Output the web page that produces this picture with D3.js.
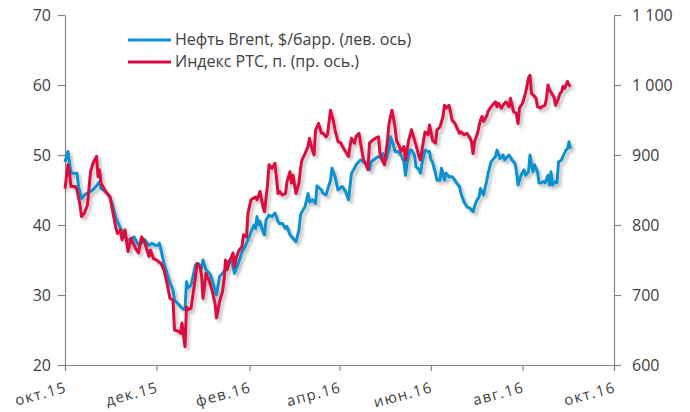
<!DOCTYPE html>
<html><head><meta charset="utf-8">
<script src="https://cdn.jsdelivr.net/npm/d3@7"></script>
<style>
body{margin:0;background:#fff;}
svg{display:block;font-family:"Open Sans",sans-serif;}
</style></head>
<body><svg id="c" width="690" height="412"></svg>
<script>
// day offsets from 2015-10-01 and values
const brentDays = [0,2,3,4,7,8,9,11,13,17,19,21,23,24,27,30,32,34,37,39,41,43,46,49,52,53,56,58,60,62,63,66,68,70,72,73,76,78,80,81,82,84,87,89,91,92,94,97,99,101,103,105,107,109,111,113,116,118,120,122,124,126,127,128,129,130,132,133,134,136,138,140,142,143,145,147,148,150,152,154,156,157,158,160,162,163,165,167,168,171,172,174,177,178,180,182,183,185,187,189,191,193,194,197,199,201,203,204,207,209,211,212,214,216,217,219,220,222,224,226,227,228,230,231,233,234,236,237,238,240,242,243,244,245,247,248,250,251,253,254,256,258,259,261,263,264,266,268,270,272,274,276,277,279,281,282,284,287,288,290,292,293,295,296,298,300,301,302,304,306,307,309,310,311,312,313,315,316,317,319,320,322,323,324,325,327,328,329,331,332,334,335,336,337];
const brentValues = [49.0,50.5,48.9,47.4,47.4,47.4,45.5,43.8,44.3,44.8,45.1,45.6,46.2,45.2,44.8,44.0,42.6,41.0,39.5,38.8,37.9,37.9,38.3,37.1,37.6,37.9,37.1,37.4,37.1,37.1,37.4,34.5,33.1,31.7,30.7,29.3,28.6,28.1,27.9,31.9,31.0,31.4,34.3,34.5,33.8,35.0,33.6,32.9,31.4,30.0,32.6,33.1,33.6,34.8,35.0,33.1,34.8,36.2,36.9,37.9,39.0,40.0,39.5,41.2,40.0,40.5,39.0,38.6,40.7,41.4,41.2,41.7,40.5,40.2,40.2,39.5,39.8,38.6,38.1,37.6,39.3,41.4,41.9,42.6,44.5,43.3,43.6,43.1,45.6,45.0,44.5,44.3,46.4,48.1,46.9,45.0,45.2,45.5,44.8,43.6,47.4,48.1,48.6,49.3,49.0,48.6,47.9,49.0,49.5,49.8,49.5,50.2,49.3,50.7,52.6,51.4,50.5,50.5,50.0,49.0,47.1,48.8,50.7,50.7,50.0,48.3,47.9,47.4,48.8,50.7,50.5,50.5,49.3,49.0,47.4,46.4,46.4,48.1,46.4,47.4,46.9,46.9,46.7,46.0,45.5,44.5,43.3,42.6,42.4,41.9,43.3,44.0,45.2,44.3,46.2,47.3,49.0,49.8,50.7,49.5,50.0,49.3,49.8,50.0,49.3,48.8,47.6,45.7,47.1,47.9,47.1,47.6,50.0,48.6,47.6,48.6,47.6,46.0,46.0,46.2,46.0,47.1,45.7,47.6,45.7,46.2,46.0,49.0,49.3,49.8,50.7,50.9,51.9,50.9];
const rtsDays = [0,2,3,4,7,8,10,11,13,15,17,19,21,22,23,24,27,30,32,34,35,37,38,40,42,44,47,49,51,53,56,57,59,61,64,66,68,70,72,73,76,77,78,80,81,82,84,87,88,90,91,92,94,96,98,100,101,103,105,106,107,108,110,112,113,114,116,118,119,121,122,124,127,128,130,132,133,135,136,138,140,142,143,145,147,148,150,151,152,154,156,157,158,160,162,163,164,166,167,169,171,172,174,175,177,179,180,182,184,185,187,189,190,191,193,194,196,197,199,200,202,203,205,207,209,210,212,213,215,216,218,220,221,223,224,226,227,229,231,234,236,237,238,240,242,243,244,245,247,248,250,252,253,254,256,257,258,260,261,263,264,266,268,270,271,272,273,275,277,278,279,281,282,284,287,288,289,291,292,294,296,297,299,301,302,303,305,306,307,309,310,311,312,314,315,317,318,320,321,322,323,325,326,327,329,330,331,332,333,335,336,337];
const rtsValues = [852,886,874,855,855,850,829,812,817,829,876,890,898,869,879,860,848,840,817,795,788,793,779,793,762,781,767,760,783,776,755,764,752,750,745,736,717,695,693,650,648,645,660,626,683,679,681,726,745,740,729,695,731,721,707,688,667,690,705,721,750,736,750,760,740,752,764,769,786,783,817,836,840,836,848,826,819,857,886,881,888,845,848,843,845,862,876,860,871,845,860,881,893,902,912,924,914,900,935,945,931,931,926,929,964,948,936,919,917,912,905,898,912,924,917,926,931,917,893,890,879,917,921,924,926,902,890,886,921,945,964,940,921,912,905,912,893,920,936,914,898,893,907,933,929,943,933,921,917,936,940,955,971,967,971,962,950,945,940,931,933,929,931,924,919,902,919,931,950,955,948,955,962,969,976,969,974,967,971,976,969,981,962,959,945,967,974,981,988,1010,1014,988,986,981,969,967,969,971,981,1000,993,986,983,971,981,988,990,998,995,1005,1000,998];
const leftTicks = [20,30,40,50,60,70];
const rightTicks = [600,700,800,900,1000,1100];
const monthTicks = ["2015-10-01","2015-12-01","2016-02-01","2016-04-01","2016-06-01","2016-08-01","2016-10-01"];
const monthLabels = ["окт.15","дек.15","фев.16","апр.16","июн.16","авг.16","окт.16"];
const seriesNames = ["Нефть Brent, $/барр. (лев. ось)","Индекс РТС, п. (пр. ось.)"];
const colors = ["#1190cf","#dc0a3c"];

const start = new Date(2015,9,1), end = new Date(2016,9,1);
const parse = d3.timeParse("%Y-%m-%d");
const brent = brentDays.map((d,i)=>({date:d3.timeDay.offset(start,d), v:brentValues[i]}));
const rts = rtsDays.map((d,i)=>({date:d3.timeDay.offset(start,d), v:rtsValues[i]}));

const svg = d3.select("#c");
const L=65,R=614,T=15,B=365;
const x = d3.scaleTime().domain([start,end]).range([L,R]);
const yL = d3.scaleLinear().domain([20,70]).range([B,T]);
const yR = d3.scaleLinear().domain([600,1100]).range([B,T]);

const defs = svg.append("defs");
const f = defs.append("filter").attr("id","sh").attr("x","-10%").attr("y","-10%").attr("width","130%").attr("height","130%");
f.append("feDropShadow").attr("dx",2.5).attr("dy",3).attr("stdDeviation",1.8).attr("flood-color","#000").attr("flood-opacity",0.25);

const axisColor="#868686", textColor="#404040", fs=16;
function styleAxis(g){
  g.select(".domain").attr("stroke",axisColor).attr("stroke-width",1.2);
  g.selectAll(".tick line").attr("stroke",axisColor).attr("stroke-width",1.2);
  g.selectAll("text").attr("fill",textColor).style("font-size",fs+"px").style("font-family",'"Open Sans",sans-serif');
}
const fmt = d=>d3.format(",")(d).replace(/,/g," ");
svg.append("g").attr("transform",`translate(${L},0)`)
  .call(d3.axisLeft(yL).tickValues(leftTicks).tickSize(7).tickSizeOuter(0).tickPadding(7))
  .call(styleAxis);
svg.append("g").attr("transform",`translate(${R},0)`)
  .call(d3.axisRight(yR).tickValues(rightTicks).tickSize(7).tickSizeOuter(0).tickPadding(11).tickFormat(fmt))
  .call(styleAxis);
const gx = svg.append("g").attr("transform",`translate(0,${B})`)
  .call(d3.axisBottom(x).tickValues(monthTicks.map(parse)).tickSize(6).tickSizeOuter(0).tickFormat((d,i)=>monthLabels[i]))
  .call(styleAxis);
gx.selectAll("text").attr("text-anchor","end").attr("dy",null).attr("y",null)
  .style("font-size","15px").style("letter-spacing","1.3px")
  .attr("transform","translate(2,27) rotate(-15)");

const lineL = d3.line().x(d=>x(d.date)).y(d=>yL(d.v));
const lineR = d3.line().x(d=>x(d.date)).y(d=>yR(d.v));
const gl = svg.append("g").attr("filter","url(#sh)");
gl.append("path").datum(brent).attr("d",lineL).attr("fill","none").attr("stroke",colors[0]).attr("stroke-width",3).attr("stroke-linejoin","round");
gl.append("path").datum(rts).attr("d",lineR).attr("fill","none").attr("stroke",colors[1]).attr("stroke-width",3).attr("stroke-linejoin","round");

// legend
const lg = svg.append("g");
seriesNames.forEach((n,i)=>{
  const yy = 40 + i*22;
  lg.append("line").attr("x1",128).attr("x2",171).attr("y1",yy).attr("y2",yy).attr("stroke",colors[i]).attr("stroke-width",3);
  lg.append("text").attr("x",175).attr("y",yy+5).attr("fill",textColor).style("font-size",fs+"px").text(n);
});
</script></body></html>
